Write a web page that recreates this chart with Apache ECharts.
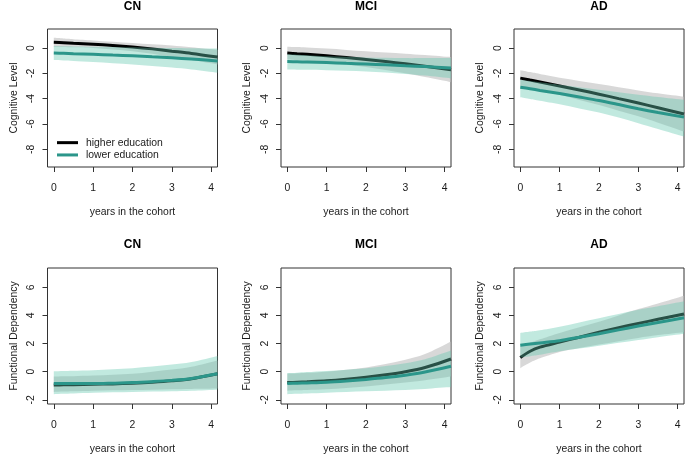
<!DOCTYPE html>
<html>
<head>
<meta charset="utf-8">
<script src="https://cdn.jsdelivr.net/npm/echarts@6/dist/echarts.min.js"></script>
<style>html,body{margin:0;padding:0;background:#fff}#c{width:685px;height:456px}</style>
</head>
<body>
<div id="c"></div>
<script>
// ---- data ----
const xs = [0, 0.25, 0.5, 1, 1.5, 2, 2.5, 3, 3.5, 4.16];
const xTicks = [0, 1, 2, 3, 4];
const yTicksCog = [-8, -6, -4, -2, 0];
const yTicksFun = [-2, 0, 2, 4, 6];
const panelTitles = ['CN', 'MCI', 'AD', 'CN', 'MCI', 'AD'];
const seriesNames = ['higher education', 'lower education'];

// Cognitive level - CN
const cnCogHiLine = [0.45, 0.42, 0.38, 0.3, 0.2, 0.08, -0.07, -0.25, -0.43, -0.72];
const cnCogHiUp   = [0.8, 0.75, 0.7, 0.6, 0.5, 0.4, 0.3, 0.2, 0.05, -0.15];
const cnCogHiLo   = [0.1, 0.08, 0.05, 0.0, -0.12, -0.25, -0.45, -0.7, -0.95, -1.3];
const cnCogLoLine = [-0.4, -0.42, -0.45, -0.5, -0.56, -0.62, -0.7, -0.78, -0.87, -1.02];
const cnCogLoUp   = [0.15, 0.13, 0.12, 0.1, 0.08, 0.05, 0.02, 0.0, -0.02, -0.05];
const cnCogLoLo   = [-0.95, -0.98, -1.02, -1.1, -1.2, -1.3, -1.42, -1.55, -1.7, -1.95];
// Cognitive level - MCI
const mciCogHiLine = [-0.4, -0.45, -0.5, -0.62, -0.75, -0.9, -1.07, -1.25, -1.44, -1.72];
const mciCogHiUp   = [0.1, 0.07, 0.03, -0.05, -0.15, -0.25, -0.35, -0.45, -0.56, -0.72];
const mciCogHiLo   = [-0.9, -0.96, -1.02, -1.15, -1.32, -1.5, -1.73, -2.0, -2.3, -2.7];
const mciCogLoLine = [-1.07, -1.09, -1.11, -1.15, -1.21, -1.27, -1.33, -1.4, -1.47, -1.58];
const mciCogLoUp   = [-0.5, -0.54, -0.58, -0.65, -0.7, -0.75, -0.78, -0.8, -0.8, -0.8];
const mciCogLoLo   = [-1.7, -1.71, -1.72, -1.75, -1.8, -1.85, -1.94, -2.05, -2.18, -2.4];
// Cognitive level - AD
const adCogHiLine = [-2.38, -2.53, -2.68, -3.0, -3.32, -3.65, -4.0, -4.35, -4.72, -5.22];
const adCogHiUp   = [-1.75, -1.9, -2.05, -2.35, -2.6, -2.85, -3.1, -3.35, -3.58, -3.85];
const adCogHiLo   = [-3.0, -3.17, -3.35, -3.7, -4.1, -4.5, -4.95, -5.4, -5.9, -6.6];
const adCogLoLine = [-3.1, -3.22, -3.35, -3.6, -3.87, -4.15, -4.47, -4.8, -5.1, -5.46];
const adCogLoUp   = [-2.5, -2.6, -2.7, -2.9, -3.1, -3.3, -3.5, -3.7, -3.88, -4.1];
const adCogLoLo   = [-3.9, -4.03, -4.17, -4.45, -4.77, -5.1, -5.5, -5.95, -6.4, -7.0];
// Functional dependency - CN
const cnFunHiLine = [-0.95, -0.94, -0.93, -0.9, -0.87, -0.82, -0.75, -0.65, -0.5, -0.15];
const cnFunHiUp   = [-0.35, -0.33, -0.32, -0.28, -0.22, -0.15, 0.0, 0.15, 0.35, 0.8];
const cnFunHiLo   = [-1.45, -1.42, -1.4, -1.35, -1.32, -1.3, -1.28, -1.25, -1.23, -1.2];
const cnFunLoLine = [-0.85, -0.85, -0.85, -0.85, -0.82, -0.78, -0.71, -0.62, -0.48, -0.15];
const cnFunLoUp   = [0.02, 0.04, 0.06, 0.1, 0.17, 0.25, 0.36, 0.5, 0.68, 1.12];
const cnFunLoLo   = [-1.6, -1.57, -1.55, -1.5, -1.47, -1.45, -1.42, -1.4, -1.36, -1.28];
// Functional dependency - MCI
const mciFunHiLine = [-0.78, -0.75, -0.72, -0.65, -0.54, -0.4, -0.22, 0.0, 0.3, 0.9];
const mciFunHiUp   = [-0.15, -0.12, -0.08, 0.0, 0.13, 0.3, 0.55, 0.85, 1.25, 2.15];
const mciFunHiLo   = [-1.35, -1.32, -1.3, -1.25, -1.16, -1.05, -0.92, -0.78, -0.62, -0.35];
const mciFunLoLine = [-0.85, -0.82, -0.8, -0.75, -0.66, -0.55, -0.42, -0.25, -0.03, 0.38];
const mciFunLoUp   = [-0.1, -0.07, -0.03, 0.05, 0.14, 0.25, 0.4, 0.6, 0.88, 1.5];
const mciFunLoLo   = [-1.6, -1.57, -1.55, -1.5, -1.45, -1.4, -1.35, -1.3, -1.23, -1.1];
// Functional dependency - AD
const adFunHiLine = [1.0, 1.45, 1.74, 2.1, 2.45, 2.8, 3.12, 3.43, 3.72, 4.1];
const adFunHiUp   = [1.8, 2.05, 2.3, 2.75, 3.15, 3.55, 4.0, 4.45, 4.85, 5.4];
const adFunHiLo   = [0.25, 0.65, 0.95, 1.4, 1.68, 1.93, 2.17, 2.4, 2.6, 2.8];
const adFunLoLine = [1.88, 1.96, 2.04, 2.2, 2.45, 2.7, 2.97, 3.24, 3.5, 3.83];
const adFunLoUp   = [2.75, 2.85, 2.95, 3.2, 3.5, 3.8, 4.1, 4.4, 4.65, 5.0];
const adFunLoLo   = [1.0, 1.1, 1.2, 1.45, 1.65, 1.85, 2.05, 2.25, 2.45, 2.7];

// ---- layout / style ----
const panels = [
  {hiLine: cnCogHiLine, hiUp: cnCogHiUp, hiLo: cnCogHiLo, loLine: cnCogLoLine, loUp: cnCogLoUp, loLo: cnCogLoLo},
  {hiLine: mciCogHiLine, hiUp: mciCogHiUp, hiLo: mciCogHiLo, loLine: mciCogLoLine, loUp: mciCogLoUp, loLo: mciCogLoLo},
  {hiLine: adCogHiLine, hiUp: adCogHiUp, hiLo: adCogHiLo, loLine: adCogLoLine, loUp: adCogLoUp, loLo: adCogLoLo},
  {hiLine: cnFunHiLine, hiUp: cnFunHiUp, hiLo: cnFunHiLo, loLine: cnFunLoLine, loUp: cnFunLoUp, loLo: cnFunLoLo},
  {hiLine: mciFunHiLine, hiUp: mciFunHiUp, hiLo: mciFunHiLo, loLine: mciFunLoLine, loUp: mciFunLoUp, loLo: mciFunLoLo},
  {hiLine: adFunHiLine, hiUp: adFunHiUp, hiLo: adFunHiLo, loLine: adFunLoLine, loUp: adFunLoUp, loLo: adFunLoLo}
];
const gridLefts = [47.5, 281, 514];
const gridW = 170;
const rowTop = [29, 268];
const rowH = [138, 136];
const FONT = 'Liberation Sans, Arial, Helvetica, sans-serif';
const FS = 10.4;
const TEXT = '#1a1a1a';
const AXC = '#333';
const HI_COLOR = '#000000';
const LO_COLOR = '#2b968a';
const HI_BAND = 'rgba(190,190,190,0.6)';
const LO_BAND = 'rgba(100,200,175,0.4)';

// smooth path through pixel points (Catmull-Rom -> cubic Bezier)
function curveSegs(P, startWithMove) {
  let d = (startWithMove ? 'M' : 'L') + P[0][0] + ' ' + P[0][1];
  for (let k = 0; k < P.length - 1; k++) {
    const p0 = P[Math.max(k - 1, 0)], p1 = P[k], p2 = P[k + 1], p3 = P[Math.min(k + 2, P.length - 1)];
    const c1 = [p1[0] + (p2[0] - p0[0]) / 6, p1[1] + (p2[1] - p0[1]) / 6];
    const c2 = [p2[0] - (p3[0] - p1[0]) / 6, p2[1] - (p3[1] - p1[1]) / 6];
    d += ' C' + c1[0] + ' ' + c1[1] + ' ' + c2[0] + ' ' + c2[1] + ' ' + p2[0] + ' ' + p2[1];
  }
  return d;
}
function bandSeries(i, up, lo, color, z) {
  return {
    type: 'custom', xAxisIndex: i, yAxisIndex: i, silent: true, z: z,
    data: [[xs[0], up[0]]],
    renderItem: function (params, api) {
      const U = xs.map((x, k) => api.coord([x, up[k]]));
      const L = xs.map((x, k) => api.coord([x, lo[k]])).reverse();
      const d = curveSegs(U, true) + ' ' + curveSegs(L, false) + ' Z';
      return {type: 'path', shape: {pathData: d}, style: {fill: color, stroke: null}};
    }
  };
}

const grids = [], xAxes = [], yAxes = [], series = [], titles = [];
panels.forEach((p, i) => {
  const r = Math.floor(i / 3), c = i % 3;
  grids.push({left: gridLefts[c], top: rowTop[r], width: gridW, height: rowH[r],
    show: true, borderColor: AXC, borderWidth: 1, backgroundColor: 'transparent', containLabel: false});
  xAxes.push({type: 'value', gridIndex: i, min: -0.16, max: 4.16, position: 'bottom',
    axisLine: {show: false, onZero: false},
    axisTick: {show: true, length: 5, lineStyle: {color: AXC}, customValues: xTicks},
    axisLabel: {show: true, margin: 16, color: TEXT, fontFamily: FONT, fontSize: FS, customValues: xTicks},
    splitLine: {show: false},
    name: 'years in the cohort', nameLocation: 'middle', nameGap: 40,
    nameTextStyle: {color: TEXT, fontFamily: FONT, fontSize: FS}});
  const yt = r === 0 ? yTicksCog : yTicksFun;
  yAxes.push({type: 'value', gridIndex: i, position: 'left',
    min: r === 0 ? -9.4 : -2.3, max: r === 0 ? 1.5 : 7.37,
    axisLine: {show: false, onZero: false},
    axisTick: {show: true, length: 5, lineStyle: {color: AXC}, customValues: yt},
    axisLabel: {show: true, rotate: 90, margin: 11, color: TEXT, fontFamily: FONT, fontSize: FS, customValues: yt},
    splitLine: {show: false},
    name: r === 0 ? 'Cognitive Level' : 'Functional Dependency', nameLocation: 'middle', nameGap: 28.5,
    nameRotate: 90,
    nameTextStyle: {color: TEXT, fontFamily: FONT, fontSize: FS}});
  titles.push({text: panelTitles[i], left: gridLefts[c] + gridW / 2, textAlign: 'center',
    top: r === 0 ? 1 : 239, padding: 0,
    textStyle: {fontFamily: FONT, fontSize: 12, fontWeight: 'bold', color: '#000'}});

  const pts = arr => xs.map((x, k) => [x, arr[k]]);
  const common = {type: 'line', xAxisIndex: i, yAxisIndex: i, smooth: 0.3, showSymbol: false, symbol: 'none', silent: true, clip: true};
  series.push(bandSeries(i, p.hiUp, p.hiLo, HI_BAND, 1));
  series.push(Object.assign({}, common, {name: seriesNames[0], data: pts(p.hiLine), z: 2,
    lineStyle: {width: 3, color: HI_COLOR}, itemStyle: {color: HI_COLOR}}));
  series.push(bandSeries(i, p.loUp, p.loLo, LO_BAND, 3));
  series.push(Object.assign({}, common, {name: seriesNames[1], data: pts(p.loLine), z: 4,
    lineStyle: {width: 3, color: LO_COLOR}, itemStyle: {color: LO_COLOR}}));
});

const chart = echarts.init(document.getElementById('c'), null, {renderer: 'canvas'});
chart.setOption({
  animation: false,
  backgroundColor: '#fff',
  title: titles,
  grid: grids,
  xAxis: xAxes,
  yAxis: yAxes,
  legend: {
    orient: 'vertical', left: 57, top: 136.5, itemGap: 0, selectedMode: false, padding: 0, z: 10,
    icon: 'rect', itemWidth: 21, itemHeight: 3,
    textStyle: {fontFamily: FONT, fontSize: FS, lineHeight: 12.3, color: TEXT, padding: [0, 0, 0, 3]},
    data: [
      {name: seriesNames[0], itemStyle: {color: HI_COLOR}},
      {name: seriesNames[1], itemStyle: {color: LO_COLOR}}
    ]
  },
  series: series
});
</script>
</body>
</html>
